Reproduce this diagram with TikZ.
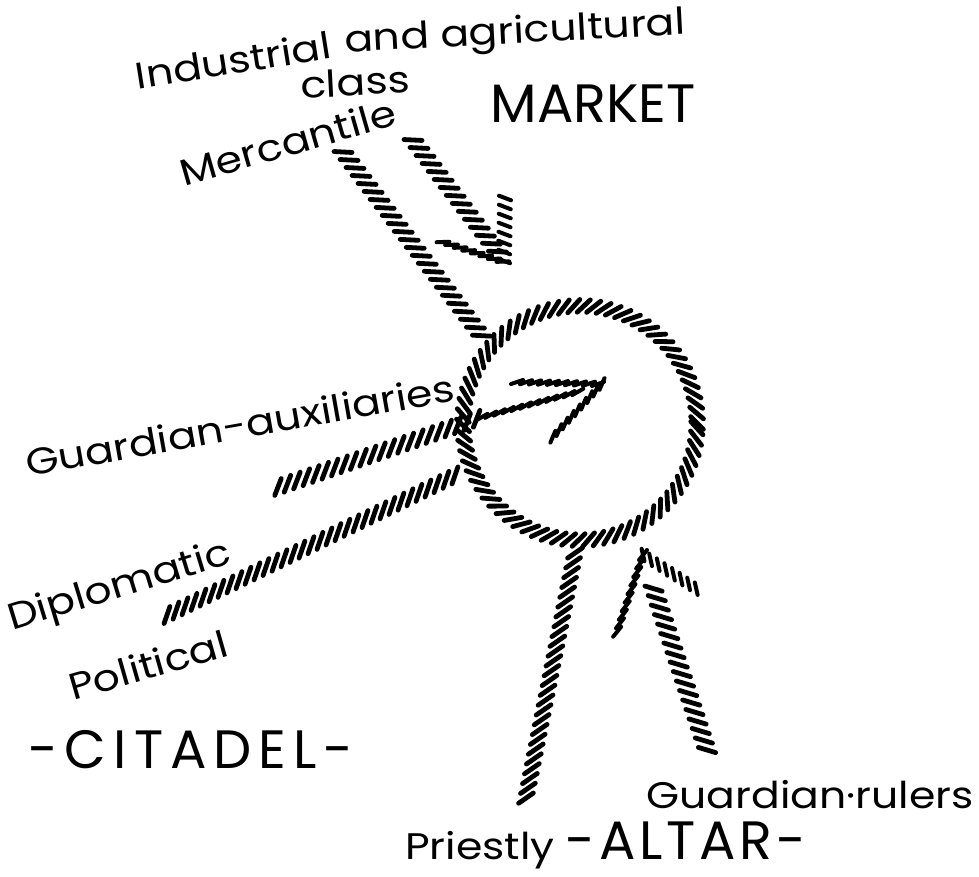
\documentclass[tikz,border=0pt]{standalone}
\usepackage{fontspec}
\setmainfont{Poppins}
\newfontfamily\handfont[FakeStretch=1.15]{Poppins}
\usetikzlibrary{positioning,decorations.markings}
\newcommand{\ring}{(580,423) circle (58.5pt)}
\tikzset{
  hatchband/.style={decoration={markings,
      mark=between positions 0 and 1 step 5pt with
      {\draw[line width=2.4pt,line cap=round,rotate=#1] (-4.5pt,0) -- (4.5pt,0);}},
    postaction={decorate}},
  hatchband/.default=55,
  hatchbarb/.style={decoration={markings,
      mark=between positions 0 and 1 step 4.5pt with
      {\draw[line width=2pt,line cap=round,rotate=#1] (-3.2pt,0) -- (3.2pt,0);}},
    postaction={decorate}},
  hatchbarb/.default=20,
  hand/.style={inner sep=0pt,font=\handfont\fontsize{18.5}{20}\selectfont},
  place/.style={inner sep=0pt,font=\fontsize{27}{30}\selectfont}
}
\begin{document}
\begin{tikzpicture}[x=0.5pt,y=-0.5pt]
\useasboundingbox (0,0) rectangle (979,877);
% labels
\node[hand,rotate=9] (ind) at (233,60) {Industrial};
\node[hand,rotate=3,anchor=base west] (agr) at ([xshift=6pt,yshift=3pt]ind.base east) {and agricultural};
\node[hand,rotate=3] (cls) at (355,82) {class};
\node[place] (market) at (593,104) {MARKET};
\node[hand,rotate=16] (merc) at (288,142) {Mercantile};
\node[hand,rotate=10] (aux) at (240,425) {Guardian-auxiliaries};
\node[hand,rotate=17] (dipl) at (120,588) {Diplomatic};
\node[hand,rotate=16] (pol) at (148,665) {Political};
\node[place] (citadel) at (191,750) {\addfontfeature{LetterSpace=13}-CITADEL-};
\node[hand] (rulers) at (810,795) {Guardian·rulers};
\node[hand] (priest) at (480,850) {Priestly};
\node[place,anchor=base west] (altar) at ([xshift=5pt]priest.base east) {\addfontfeature{LetterSpace=7}-ALTAR-};
% ends of the bands
\coordinate (m0) at (343,152); \coordinate (m1) at (487,343);
\coordinate (k0) at (413,140); \coordinate (k1) at (500,255);
\coordinate (ktip) at (504,262); \coordinate (kl) at (443,242); \coordinate (kr) at (505,198);
\coordinate (g0) at (278,487); \coordinate (g1) at (482,417); \coordinate (g2) at (585,390);
\coordinate (gtip) at (602,384); \coordinate (gl) at (517,382); \coordinate (gr) at (547,443);
\coordinate (d0) at (167,615); \coordinate (d1) at (460,473);
\coordinate (p0) at (575,553); \coordinate (p1) at (525,803);
\coordinate (r0) at (707,750); \coordinate (r1) at (653,587);
\coordinate (rtip) at (643,555); \coordinate (rl) at (615,638); \coordinate (rr) at (703,593);
% circle
\path[hatchband=45] \ring;
% market
\path[hatchband=50] (m0) -- (m1);
\path[hatchband=50] (k0) -- (k1);
\path[hatchbarb=20] (kl) -- (ktip);
\path[hatchbarb=70] (kr) -- (ktip);
% citadel
\path[hatchband=50] (g0) -- (g1);
\path[hatchbarb=15] (g1) -- (g2);
\path[hatchbarb=20] (gl) -- (gtip);
\path[hatchbarb=20] (gtip) -- (gr);
\path[hatchband=45] (d0) -- (d1);
% altar
\path[hatchband=-44] (p0) -- (p1);
\path[hatchband=55] (r0) -- (r1);
\path[hatchbarb=-20] (rtip) -- (rl);
\path[hatchbarb=-45] (rtip) -- (rr);
\end{tikzpicture}
\end{document}
